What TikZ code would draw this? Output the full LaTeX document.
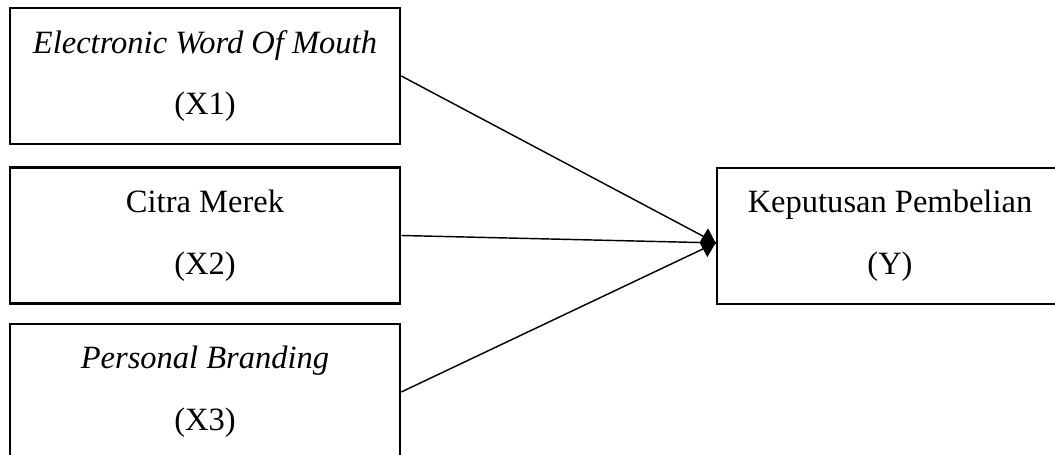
\documentclass[tikz,border=0pt]{standalone}
\usepackage{fontspec}
\setmainfont{Liberation Serif}
\usetikzlibrary{arrows.meta}

\begin{document}
\begin{tikzpicture}[x=0.3475pt,y=-0.3475pt,>={Diamond[length=5.6pt,width=10pt]},
    var/.style={draw,line width=0.9pt,minimum width=390*0.3475pt,minimum height=136*0.3475pt,
      align=center,font=\fontsize{11.3}{21.5}\selectfont,inner sep=0pt}]
      \useasboundingbox (0,0) rectangle (1055,455);

      \node[var] (x1) at (205,76) {\textit{Electronic Word Of Mouth}\\(X1)};
      \node[var] (x2) at (205,235.5) {Citra Merek\\(X2)};
      \node[var] (x3) at (205,392) {\textit{Personal Branding}\\(X3)};
      \node[var,minimum width=346*0.3475pt] (y) at (890,236) {Keputusan Pembelian\\(Y)};

      \coordinate (yin) at ([yshift=-2.4pt]y.west);

      \draw[line width=0.5pt] (x1.east) -- (yin);
      \draw[->,line width=0.5pt] (x2.east) -- (yin);
      \draw[line width=0.5pt] (x3.east) -- (yin);
    \end{tikzpicture}
\end{document}
